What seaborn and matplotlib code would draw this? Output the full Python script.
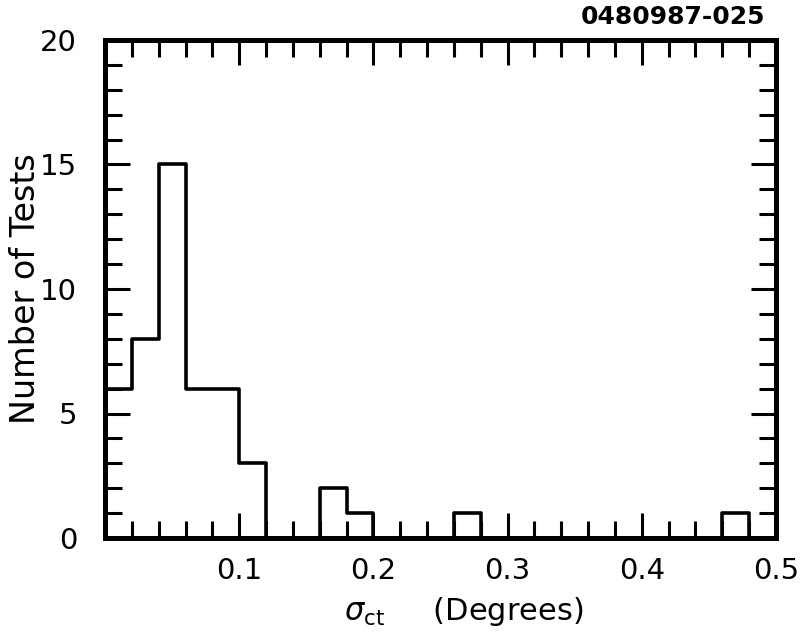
import numpy as np
import pandas as pd
import matplotlib
matplotlib.use("Agg")
import matplotlib.pyplot as plt
import seaborn as sns
from matplotlib.ticker import MultipleLocator

# Histogram of sigma_ct: bin left edges (degrees) and number of tests in each bin
bin_left = [0.00, 0.02, 0.04, 0.06, 0.08, 0.10, 0.16, 0.18, 0.26, 0.46]
n_tests = [6, 8, 15, 6, 6, 3, 2, 1, 1, 1]
bin_width = 0.02
x_ticks = [0.1, 0.2, 0.3, 0.4, 0.5]
x_tick_labels = ["0.1", "0.2", "0.3", "0.4", "0.5"]
y_ticks = [0, 5, 10, 15, 20]

sns.set_style("white")
plt.rcParams["font.family"] = ["DejaVu Sans"]
plt.rcParams["mathtext.fontset"] = "dejavusans"
plt.rcParams["text.color"] = "black"
plt.rcParams["axes.labelcolor"] = "black"
plt.rcParams["xtick.color"] = "black"
plt.rcParams["ytick.color"] = "black"

df = pd.DataFrame({
    "sigma": np.array(bin_left) + bin_width / 2,
    "count": n_tests,
})

fig = plt.figure(figsize=(8.07, 6.42), dpi=100)
ax = fig.add_axes([105 / 807, 1 - 538 / 642, (776 - 105) / 807, (538 - 40) / 642])

sns.histplot(data=df, x="sigma", weights="count", binwidth=bin_width,
             binrange=(0, 0.5), element="step", fill=False, color="black",
             linewidth=2.6, ax=ax)

ax.set_xlim(0, 0.5)
ax.set_ylim(0, 20)
ax.set_xticks(x_ticks)
ax.set_xticklabels(x_tick_labels)
ax.set_yticks(y_ticks)
ax.xaxis.set_minor_locator(MultipleLocator(0.02))
ax.yaxis.set_minor_locator(MultipleLocator(1))

for s in ax.spines.values():
    s.set_visible(True)
    s.set_linewidth(3.6)
    s.set_color("black")

ax.tick_params(which="both", direction="in", top=True, right=True,
               bottom=True, left=True, color="black", width=2.2)
ax.tick_params(which="major", length=18, labelsize=21, pad=14)
ax.tick_params(which="minor", length=12)
ax.tick_params(axis="y", which="major", pad=20)

ax.set_xlabel(r"$\sigma_{\rm ct}$     (Degrees)", fontsize=22)
ax.xaxis.set_label_coords(0.535, -0.115)
ax.set_ylabel("Number of Tests", fontsize=24)
ax.yaxis.set_label_coords(-0.094, 0.5)

fig.text(765 / 807, 1 - 24 / 642, "0480987-025", ha="right", va="baseline",
         fontsize=18, fontweight="bold")

fig.savefig("out.png", dpi=100, facecolor="white")
